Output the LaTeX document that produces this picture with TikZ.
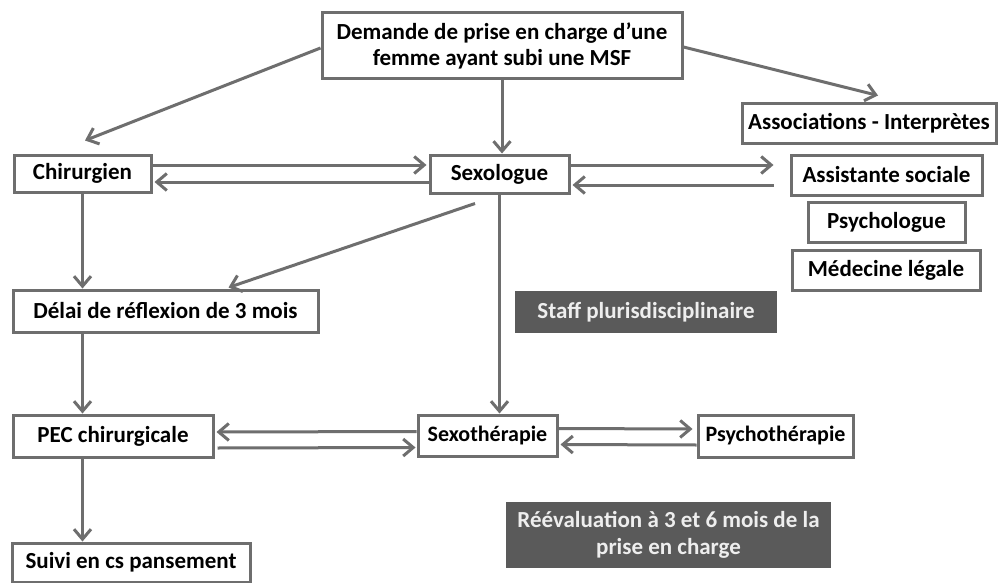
\documentclass[tikz,border=0pt]{standalone}
\usepackage{fontspec}
\setmainfont{Carlito}
\usetikzlibrary{arrows.meta,calc}
\definecolor{linegray}{HTML}{6E6E6E}
\definecolor{darkfill}{HTML}{5A5A5A}
\definecolor{lighttext}{HTML}{EEEEEE}
\begin{document}
\begin{tikzpicture}[x=1pt,y=-1pt,
  box/.style={draw=linegray, line width=3pt, fill=white, inner sep=0pt, align=center,
    font=\fontsize{23}{26}\selectfont\bfseries, text=black},
  narrowbox/.style={box, font=\fontsize{22}{25}\selectfont\bfseries},
  darkbox/.style={draw=none, fill=darkfill, inner sep=0pt, align=center,
    font=\fontsize{23}{27}\selectfont\bfseries, text=lighttext},
  conn/.style={draw=linegray, line width=3pt, -{Straight Barb[length=10pt,width=17pt]}}
]
\useasboundingbox[fill=white] (0,0) rectangle (998,583);

\node[box, minimum width=360, minimum height=66] (top) at (502,46) {Demande de prise en charge d’une\\femme ayant subi une MSF};
\node[box, minimum width=137, minimum height=37] (chir) at (82.5,173.5) {Chirurgien};
\node[box, minimum width=139, minimum height=38] (sexo) at (499.5,174) {Sexologue};
\node[box, minimum width=254, minimum height=39] (assoc) at (869,123.5) {Associations - Interprètes};
\node[box, minimum width=191, minimum height=40] (assist) at (886.5,175) {Assistante sociale};
\node[box, minimum width=157, minimum height=40] (psy) at (886.5,222) {Psychologue};
\node[box, minimum width=188, minimum height=40] (med) at (886,270) {Médecine légale};
\node[darkbox, minimum width=262, minimum height=42] (staff) at (646,312) {Staff plurisdisciplinaire};
\node[box, minimum width=305, minimum height=42] (delai) at (165.5,311) {Délai de réflexion de 3 mois};
\node[box, minimum width=200, minimum height=42] (pec) at (113,436) {PEC chirurgicale};
\node[narrowbox, minimum width=139, minimum height=41] (sexth) at (487.5,435.5) {Sexothérapie};
\node[narrowbox, minimum width=155, minimum height=42] (psyth) at (775.5,436) {Psychothérapie};
\node[darkbox, minimum width=325, minimum height=66] (reev) at (668.5,535) {Réévaluation à 3 et 6 mois de la\\prise en charge};
\node[box, minimum width=238, minimum height=39] (suivi) at (131,562.5) {Suivi en cs pansement};

% from top box
\draw[conn] ($(top.west)+(0,2)$) -- ($(chir.north)+(2.5,-13)$);
\draw[conn] (top.south) -- (top.south |- sexo.north);
\draw[conn] ($(top.east)+(0,1)$) -- ($(assoc.north)+(9,-7)$);

% chirurgien <-> sexologue
\draw[conn] ($(chir.east)+(0,-8.5)$) -- ($(sexo.west)+(-2,-9)$);
\draw[conn] ($(sexo.west)+(0,8)$) -- ($(chir.east)+(2,8.5)$);

% sexologue <-> assistante sociale
\draw[conn] ($(sexo.east)+(0,-9)$) -- ($(assist.west)+(-16,-10)$);
\draw[conn] ($(assist.west)+(-16,10)$) -- ($(sexo.east)+(2,11)$);

% vertical chains
\draw[conn] (chir.south) -- (chir.south |- delai.north);
\draw[conn] ($(sexo.south)+(-24.5,9)$) -- ($(delai.north)+(63,-1)$);
\draw[conn] (sexo.south) -- (sexo.south |- sexth.north);
\draw[conn] (chir.south |- delai.south) -- (chir.south |- pec.north);
\draw[conn] (chir.south |- pec.south) -- (chir.south |- suivi.north);

% PEC <-> sexotherapie
\draw[conn] ($(sexth.west)+(0,-4)$) -- ($(pec.east)+(2,-4)$);
\draw[conn] ($(pec.east)+(3,12)$) -- ($(sexth.west)+(-1,12)$);

% sexotherapie <-> psychotherapie
\draw[conn] ($(sexth.east)+(0,-7)$) -- ($(psyth.west)+(-4,-7)$);
\draw[conn] ($(psyth.west)+(0,9)$) -- ($(sexth.east)+(2,9)$);
\end{tikzpicture}
\end{document}
